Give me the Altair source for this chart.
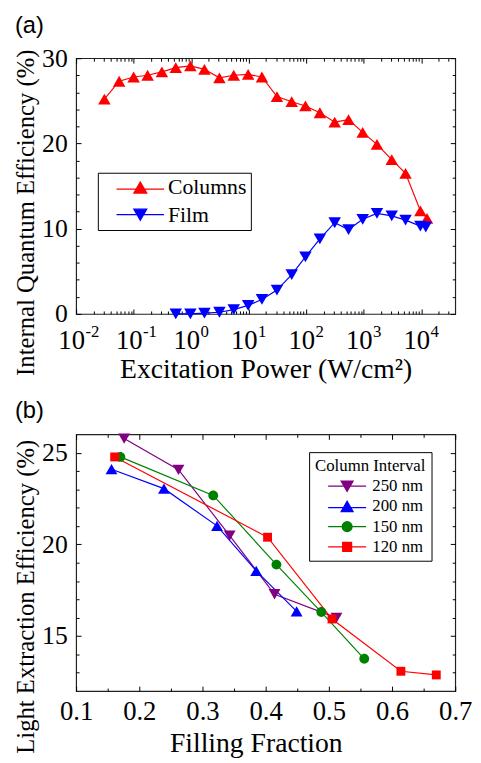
import altair as alt
import pandas as pd

SERIF = "'Liberation Serif', 'Times New Roman', Times, serif"
SANS = "'Liberation Sans', Arial, Helvetica, sans-serif"

# ---------------- panel (a) data ----------------
series_a = ["Columns", "Film"]
colors_a = ["#ff0000", "#0000ff"]
col_power = [0.031, 0.056, 0.10, 0.175, 0.31, 0.54, 0.97, 1.7, 3.1, 5.5, 9.8, 17,
             31, 56, 97, 173, 313, 545, 960, 1700, 3070, 5340, 9660, 12600]
col_iqe = [25.2, 27.3, 27.8, 28.0, 28.4, 28.9, 29.1, 28.7, 27.7, 28.0, 28.1, 27.8,
           25.5, 24.9, 24.4, 23.6, 22.5, 22.8, 21.3, 19.9, 18.1, 16.5, 12.1, 11.2]
film_power = [0.54, 0.97, 1.7, 3.1, 5.5, 9.8, 17, 31, 56, 97, 173, 313, 545, 960,
              1700, 3070, 5340, 9660, 12000]
film_iqe = [0.0, 0.0, 0.1, 0.2, 0.5, 1.0, 1.7, 2.8, 4.6, 6.7, 8.8, 10.7, 9.9, 11.1,
            11.8, 11.5, 11.0, 10.3, 10.2]
x_major_a = [0.01, 0.1, 1, 10, 100, 1000, 10000]
x_minor_a = [0.02, 0.03, 0.04, 0.05, 0.06, 0.07, 0.08, 0.09,
             0.2, 0.3, 0.4, 0.5, 0.6, 0.7, 0.8, 0.9,
             2, 3, 4, 5, 6, 7, 8, 9,
             20, 30, 40, 50, 60, 70, 80, 90,
             200, 300, 400, 500, 600, 700, 800, 900,
             2000, 3000, 4000, 5000, 6000, 7000, 8000, 9000,
             20000, 30000]
y_major_a = [0, 10, 20, 30]
y_minor_a = [2, 4, 6, 8, 12, 14, 16, 18, 22, 24, 26, 28]

# ---------------- panel (b) data ----------------
series_b = ["250 nm", "200 nm", "150 nm", "120 nm"]
colors_b = ["#800080", "#0000ff", "#008000", "#ff0000"]
ff_250 = [0.176, 0.262, 0.343, 0.414, 0.512]
le_250 = [25.77, 24.07, 20.48, 17.28, 15.99]
ff_200 = [0.156, 0.239, 0.323, 0.385, 0.449]
le_200 = [24.10, 23.04, 21.01, 18.55, 16.35]
ff_150 = [0.170, 0.317, 0.417, 0.488, 0.556]
le_150 = [24.77, 22.67, 18.90, 16.31, 13.76]
ff_120 = [0.161, 0.403, 0.505, 0.614, 0.670]
le_120 = [24.77, 20.39, 15.93, 13.08, 12.88]
x_major_b = [0.1, 0.2, 0.3, 0.4, 0.5, 0.6, 0.7]
x_minor_b = [0.15, 0.25, 0.35, 0.45, 0.55, 0.65]
y_major_b = [15, 20, 25]
y_minor_b = [13, 14, 16, 17, 18, 19, 21, 22, 23, 24]

df_a = pd.concat([
    pd.DataFrame({"x": col_power, "y": col_iqe, "series": "Columns"}),
    pd.DataFrame({"x": film_power, "y": film_iqe, "series": "Film"}),
], ignore_index=True)

df_b = pd.concat([
    pd.DataFrame({"x": ff_250, "y": le_250, "series": "250 nm"}),
    pd.DataFrame({"x": ff_200, "y": le_200, "series": "200 nm"}),
    pd.DataFrame({"x": ff_150, "y": le_150, "series": "150 nm"}),
    pd.DataFrame({"x": ff_120, "y": le_120, "series": "120 nm"}),
], ignore_index=True)

MAJ, MIN = 5, 3


def tick_axis(orient, values, size):
    return alt.Axis(orient=orient, values=values, labels=False, domain=False,
                    grid=False, ticks=True, tickSize=size, offset=-size,
                    tickColor="black", tickWidth=1, title=None)


def frame_layers(df, xscale, yscale, xaxes, yaxes):
    layers = []
    n = max(len(xaxes), len(yaxes))
    for i in range(n):
        xa = xaxes[i] if i < len(xaxes) else None
        ya = yaxes[i] if i < len(yaxes) else None
        layers.append(
            alt.Chart(df).mark_point(opacity=0).encode(
                x=alt.X("x:Q", scale=xscale, axis=xa),
                y=alt.Y("y:Q", scale=yscale, axis=ya),
            )
        )
    return layers


def data_layers(df, xscale, yscale, domain, colors, shapes, size):
    cscale = alt.Scale(domain=domain, range=colors)
    line = alt.Chart(df).mark_line(strokeWidth=1.2).encode(
        x=alt.X("x:Q", scale=xscale, axis=None),
        y=alt.Y("y:Q", scale=yscale, axis=None),
        color=alt.Color("series:N", scale=cscale, legend=None),
    )
    pts = alt.Chart(df).mark_point(filled=True, opacity=1, size=size).encode(
        x=alt.X("x:Q", scale=xscale, axis=None),
        y=alt.Y("y:Q", scale=yscale, axis=None),
        color=alt.Color("series:N", scale=cscale, legend=None),
        shape=alt.Shape("series:N", scale=alt.Scale(domain=domain, range=shapes), legend=None),
    )
    return [line, pts]


def legend_layer(df, xscale, yscale, domain, colors, paths, size, leg):
    return alt.Chart(df).transform_filter("false").mark_point(
        filled=True, opacity=1, size=size, strokeWidth=1.3
    ).encode(
        x=alt.X("x:Q", scale=xscale, axis=None),
        y=alt.Y("y:Q", scale=yscale, axis=None),
        fill=alt.Fill("series:N", scale=alt.Scale(domain=domain, range=colors), legend=leg),
        stroke=alt.Stroke("series:N", scale=alt.Scale(domain=domain, range=colors), legend=leg),
        shape=alt.Shape("series:N", scale=alt.Scale(domain=domain, range=paths), legend=leg),
    )


# ---------------- panel (a) ----------------
xs_a = alt.Scale(type="log", domain=[0.01, 39000], nice=False)
ys_a = alt.Scale(domain=[0, 30], nice=False, zero=False)

xa_lab = alt.Axis(orient="bottom", values=x_major_a, labelExpr="'10'", ticks=False,
                  tickSize=0, domain=False, grid=False, labelFont=SERIF, labelFontSize=27,
                  labelColor="black", labelPadding=35, labelBaseline="alphabetic",
                  labelOffset=-5, labelFlush=False, labelOverlap=False,
                  title="Excitation Power (W/cm²)", titleFont=SERIF, titleFontSize=28,
                  titleFontWeight="normal", titleColor="black", titleY=64,
                  titleBaseline="alphabetic")
xa_exp = alt.Axis(orient="bottom", values=x_major_a,
                  labelExpr="'' + round(log(datum.value) / LN10)", ticks=False,
                  tickSize=0, domain=False, grid=False, labelFont=SERIF, labelFontSize=17,
                  labelColor="black", labelPadding=23, labelBaseline="alphabetic",
                  labelAlign="left", labelOffset=9, labelFlush=False, labelOverlap=False,
                  title=None)
ya_lab = alt.Axis(orient="left", values=y_major_a, ticks=False, tickSize=0, domain=False,
                  grid=False, labelFont=SERIF, labelFontSize=26, labelColor="black",
                  labelPadding=9, labelFlush=False, labelOverlap=False,
                  title="Internal Quantum Efficiency (%)", titleFont=SERIF,
                  titleFontSize=25, titleFontWeight="normal", titleColor="black",
                  titleX=-43, titleY=156, titleBaseline="alphabetic", titleAngle=270)

frames_a = frame_layers(
    df_a, xs_a, ys_a,
    [xa_lab, xa_exp, tick_axis("bottom", x_major_a, MAJ), tick_axis("bottom", x_minor_a, MIN),
     tick_axis("top", x_major_a, MAJ), tick_axis("top", x_minor_a, MIN)],
    [ya_lab, tick_axis("left", y_major_a, MAJ), tick_axis("left", y_minor_a, MIN),
     tick_axis("right", y_major_a, MAJ), tick_axis("right", y_minor_a, MIN)],
)

paths_a = ["M-3.7,0.25H3.7M0,-0.866L1,0.866L-1,0.866Z",
           "M-3.7,0H3.7M0,0.866L-1,-0.866L1,-0.866Z"]
leg_a = alt.Legend(orient="none", legendX=22, legendY=116, title=None, strokeColor="black",
                   padding=4, rowPadding=5.5, symbolSize=169, symbolStrokeWidth=1.3,
                   symbolOffset=28, labelOffset=17, labelFont=SERIF, labelFontSize=22,
                   labelColor="black", labelLimit=300)

panel_a = alt.layer(
    *frames_a,
    *data_layers(df_a, xs_a, ys_a, series_a, colors_a, ["triangle-up", "triangle-down"], 160),
    legend_layer(df_a, xs_a, ys_a, series_a, colors_a, paths_a, 169, leg_a),
).resolve_scale(shape="independent", fill="independent", stroke="independent").resolve_axis(
    x="independent", y="independent"
).properties(
    width=384, height=259,
    title=alt.TitleParams("(a)", anchor="start", frame="group", dx=-62, font=SANS,
                          fontSize=24, fontWeight="normal", color="black", offset=8),
)

# ---------------- panel (b) ----------------
xs_b = alt.Scale(domain=[0.1, 0.7], nice=False, zero=False)
ys_b = alt.Scale(domain=[12, 26], nice=False, zero=False)

xb_lab = alt.Axis(orient="bottom", values=x_major_b, format=".1f", ticks=False, tickSize=0,
                  domain=False, grid=False, labelFont=SERIF, labelFontSize=27,
                  labelColor="black", labelPadding=29, labelBaseline="alphabetic",
                  labelFlush=False, labelOverlap=False,
                  title="Filling Fraction", titleFont=SERIF, titleFontSize=28,
                  titleFontWeight="normal", titleColor="black", titleX=182, titleY=61,
                  titleBaseline="alphabetic")
yb_lab = alt.Axis(orient="left", values=y_major_b, ticks=False, tickSize=0, domain=False,
                  grid=False, labelFont=SERIF, labelFontSize=26, labelColor="black",
                  labelPadding=9, labelFlush=False, labelOverlap=False,
                  title="Light Extraction Efficiency (%)", titleFont=SERIF,
                  titleFontSize=25, titleFontWeight="normal", titleColor="black",
                  titleX=-43, titleY=164, titleBaseline="alphabetic", titleAngle=270)

frames_b = frame_layers(
    df_b, xs_b, ys_b,
    [xb_lab, tick_axis("bottom", x_major_b, MAJ), tick_axis("bottom", x_minor_b, MIN),
     tick_axis("top", x_major_b, MAJ), tick_axis("top", x_minor_b, MIN)],
    [yb_lab, tick_axis("left", y_major_b, MAJ), tick_axis("left", y_minor_b, MIN),
     tick_axis("right", y_major_b, MAJ), tick_axis("right", y_minor_b, MIN)],
)

circ = "M0.83,0A0.83,0.83,0,1,1,-0.83,0A0.83,0.83,0,1,1,0.83,0Z"
sq = "M-0.75,-0.75H0.75V0.75H-0.75Z"
shapes_b = ["triangle-down", "triangle-up", circ, sq]
paths_b = ["M-3.2,0H3.2M0,0.866L-1,-0.866L1,-0.866Z",
           "M-3.2,0.2H3.2M0,-0.866L1,0.866L-1,0.866Z",
           "M-3.2,0H3.2" + circ,
           "M-3.2,0H3.2" + sq]
leg_b = alt.Legend(orient="none", legendX=236, legendY=18, title="Column Interval",
                   titleFont=SERIF, titleFontSize=17, titleFontWeight="normal",
                   titleColor="black", titlePadding=3, strokeColor="black",
                   padding=6, rowPadding=2.5, symbolSize=144, symbolStrokeWidth=1.3,
                   symbolOffset=24, labelOffset=17, labelFont=SERIF, labelFontSize=17,
                   labelColor="black", labelLimit=300)

panel_b = alt.layer(
    *frames_b,
    *data_layers(df_b, xs_b, ys_b, series_b, colors_b, shapes_b, 144),
    legend_layer(df_b, xs_b, ys_b, series_b, colors_b, paths_b, 144, leg_b),
).resolve_scale(shape="independent", fill="independent", stroke="independent").resolve_axis(
    x="independent", y="independent"
).properties(
    width=384, height=260,
    title=alt.TitleParams("(b)", anchor="start", frame="group", dx=-62, font=SANS,
                          fontSize=24, fontWeight="normal", color="black", offset=11),
)

chart = alt.vconcat(panel_a, panel_b, spacing=14).resolve_scale(
    color="independent", shape="independent", fill="independent", stroke="independent"
).properties(
    padding={"left": 5, "top": 0, "right": 0, "bottom": 0}
).configure_view(stroke="#222222", strokeWidth=1.2).configure_legend(strokeWidth=1)

chart.save("out.html", embed_options={"renderer": "svg", "actions": False})
